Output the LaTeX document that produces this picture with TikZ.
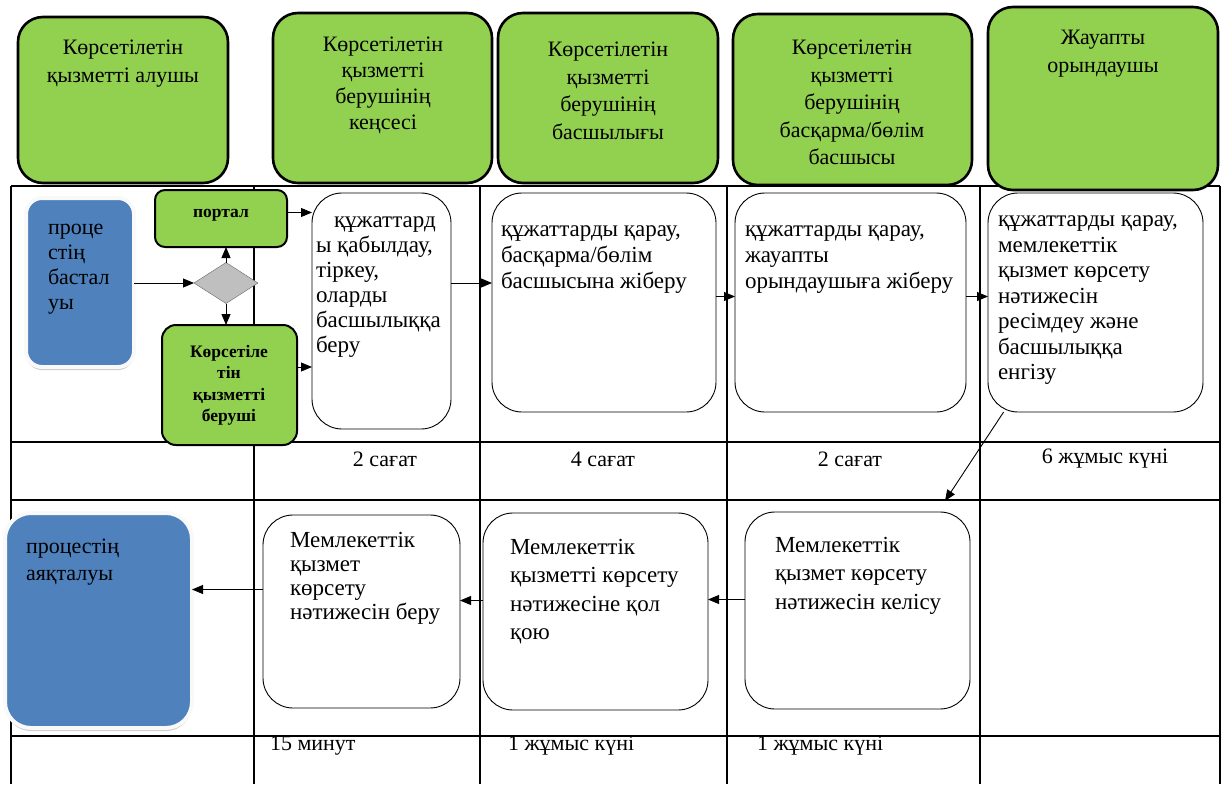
\documentclass[tikz,border=0pt]{standalone}
\usepackage{fontspec}
\setmainfont{Liberation Serif}
\usepackage{tikz}
\usetikzlibrary{arrows.meta,shapes.geometric,shadows}
\definecolor{lgreen}{RGB}{146,208,80}
\definecolor{sblue}{RGB}{79,129,189}
\definecolor{dgray}{RGB}{191,191,191}

\begin{document}
\begin{tikzpicture}[x=1pt, y=-1pt,
    every node/.style={inner sep=0pt, outer sep=0pt},
    hdbox/.style={draw, line width=2.6pt, rounded corners=25pt, fill=lgreen, anchor=north west},
    gbox/.style={draw, line width=2pt, rounded corners=10pt, fill=lgreen, anchor=north west},
    docbox/.style={draw, line width=0.9pt, rounded corners=30pt, fill=white, anchor=north west},
    sbox/.style={draw=white!95!gray, line width=4pt, fill=sblue, anchor=north west,
        drop shadow={shadow xshift=0pt, shadow yshift=-3pt, fill=gray!70, opacity=0.6}},
    htxt/.style={anchor=north, align=center, font=\fontsize{22}{27.5}\selectfont},
    dtxt/.style={anchor=north west, align=left, font=\fontsize{23}{26}\selectfont},
    gtxt/.style={anchor=north, align=center, font=\fontsize{17.5}{21.5}\selectfont\bfseries},
    ttxt/.style={font=\fontsize{22}{25}\selectfont},
    tline/.style={line width=1.1pt},
    arr/.style={-{Triangle[length=11pt, width=9pt]}, line width=0.9pt}]
    \useasboundingbox (0, 0) rectangle (1222, 784);
    \draw[tline] (11, 186) -- (1220, 186);
    \draw[tline] (11, 442) -- (1220, 442);
    \draw[tline] (11, 500) -- (1220, 500);
    \draw[tline] (11, 736) -- (1220, 736);
    \draw[tline] (11, 186) -- (11, 784);
    \draw[tline] (254, 186) -- (254, 784);
    \draw[tline] (480, 186) -- (480, 784);
    \draw[tline] (727, 186) -- (727, 784);
    \draw[tline] (980, 186) -- (980, 784);
    \draw[tline] (1220, 186) -- (1220, 784);

    \draw (18, 17) node(h1)[hdbox, minimum width=210, minimum height=166]{};
    \draw (123, 40) node(h1t)[htxt]{Көрсетілетін\\қызметті алушы};
    \draw (273, 13) node(h2)[hdbox, minimum width=219, minimum height=170]{};
    \draw (383, 37) node(h2t)[htxt, font=\fontsize{22}{26}\selectfont]{Көрсетілетін\\қызметті\\берушінің\\кеңсесі};
    \draw (498, 13) node(h3)[hdbox, minimum width=220, minimum height=170]{};
    \draw (608, 42) node(h3t)[htxt]{Көрсетілетін\\қызметті\\берушінің\\басшылығы};
    \draw (733, 14) node(h4)[hdbox, minimum width=239, minimum height=171]{};
    \draw (852, 40) node(h4t)[htxt]{Көрсетілетін\\қызметті\\берушінің\\басқарма/бөлім\\басшысы};
    \draw (988, 7) node(h5)[hdbox, minimum width=230, minimum height=183]{};
    \draw (1103, 30) node(h5t)[htxt, font=\fontsize{22}{28}\selectfont]{Жауапты\\орындаушы};

    \draw (26, 198) node(start)[sbox, rounded corners=16pt, minimum width=108, minimum height=169]{};
    \draw (48, 224) node(startt)[dtxt, font=\fontsize{22}{25}\selectfont]{проце\\стің\\бастал\\уы};
    \draw (155, 190) node(portal)[gbox, minimum width=132, minimum height=57]{};
    \draw (221, 209) node(portalt)[gtxt]{портал};
    \draw (226, 283) node(dia)[diamond, draw=gray!80!black, fill=dgray, minimum width=64, minimum height=41]{};
    \draw (162, 325) node(serv)[gbox, rounded corners=14pt, minimum width=135, minimum height=120]{};
    \draw (229, 345) node(servt)[gtxt]{Көрсетіле\\тін\\қызметті\\беруші};
    \draw (start.east |- dia.west) [arr] -- (dia.west);
    \draw (dia.north) [arr] -- (dia.north |- portal.south);
    \draw (dia.south) [arr] -- (dia.south |- serv.north);

    \draw (312, 193) node(doc1)[docbox, minimum width=139, minimum height=236]{};
    \draw (316, 217) node(doc1t)[dtxt, font=\fontsize{23}{25}\selectfont]{\hspace*{18pt}құжаттард\\ы қабылдау,\\тіркеу,\\оларды\\басшылыққа\\беру};
    \draw ([yshift=6pt]portal.east) [arr] -- ([yshift=6pt]portal.east -| doc1.west);
    \draw ([yshift=18pt]serv.east) [arr] -- ([yshift=18pt]serv.east -| doc1.west);

    \draw (492, 193) node(doc2)[docbox, minimum width=224, minimum height=219]{};
    \draw (501, 226) node(doc2t)[dtxt]{құжаттарды қарау,\\басқарма/бөлім\\басшысына жіберу};
    \draw (735, 193) node(doc3)[docbox, minimum width=231, minimum height=219]{};
    \draw (745, 226) node(doc3t)[dtxt]{құжаттарды қарау,\\жауапты\\орындаушыға жіберу};
    \draw (988, 193) node(doc4)[docbox, minimum width=215, minimum height=219]{};
    \draw (998, 216) node(doc4t)[dtxt, font=\fontsize{23}{25.5}\selectfont]{құжаттарды қарау,\\мемлекеттік\\қызмет көрсету\\нәтижесін\\ресімдеу және\\басшылыққа\\енгізу};
    \draw ([yshift=28pt]doc1.east) [arr] -- ([yshift=28pt]doc1.east -| doc2.west);
    \draw ([yshift=6pt]doc2.east) [arr] -- ([yshift=6pt]doc2.east -| doc3.west);
    \draw ([yshift=6pt]doc3.east) [arr] -- ([yshift=6pt]doc3.east -| doc4.west);

    \draw (385, 459) node(t1)[ttxt]{2 сағат};
    \draw (603, 459) node(t2)[ttxt]{4 сағат};
    \draw (850, 459) node(t3)[ttxt]{2 сағат};
    \draw (1105, 459) node(t4)[ttxt]{6 жұмыс күні};

    \draw (745, 512) node(doc5)[docbox, minimum width=225, minimum height=197]{};
    \draw (775, 537) node(doc5t)[dtxt, font=\fontsize{23}{28.5}\selectfont]{Мемлекеттік\\қызмет көрсету\\нәтижесін келісу};
    \draw (483, 513) node(doc6)[docbox, minimum width=225, minimum height=197]{};
    \draw (510, 539) node(doc6t)[dtxt, font=\fontsize{23}{28.5}\selectfont]{Мемлекеттік\\қызметті көрсету\\нәтижесіне қол\\қою};
    \draw (263, 515) node(doc7)[docbox, minimum width=197, minimum height=193]{};
    \draw (290, 532) node(doc7t)[dtxt, font=\fontsize{23}{24}\selectfont]{Мемлекеттік\\қызмет\\көрсету\\нәтижесін беру};
    \draw (5, 513) node(fin)[sbox, rounded corners=26pt, minimum width=187, minimum height=215]{};
    \draw (26, 539) node(fint)[dtxt, font=\fontsize{22}{27}\selectfont]{процестің\\аяқталуы};
    \draw (doc4.230) [arr] -- ([xshift=-25pt, yshift=11pt]doc5.north east);
    \draw ([yshift=11pt]doc5.west) [arr] -- ([yshift=11pt]doc5.west -| doc6.east);
    \draw ([yshift=11pt]doc6.west) [arr] -- ([yshift=11pt]doc6.west -| doc7.east);
    \draw ([yshift=22pt]doc7.west) [arr] -- ([yshift=22pt]doc7.west -| fin.east);

    \draw (270, 746) node(t5)[ttxt, anchor=west]{15 минут};
    \draw (508, 746) node(t6)[ttxt, anchor=west]{1 жұмыс күні};
    \draw (757, 746) node(t7)[ttxt, anchor=west]{1 жұмыс күні};
\end{tikzpicture}
\end{document}
